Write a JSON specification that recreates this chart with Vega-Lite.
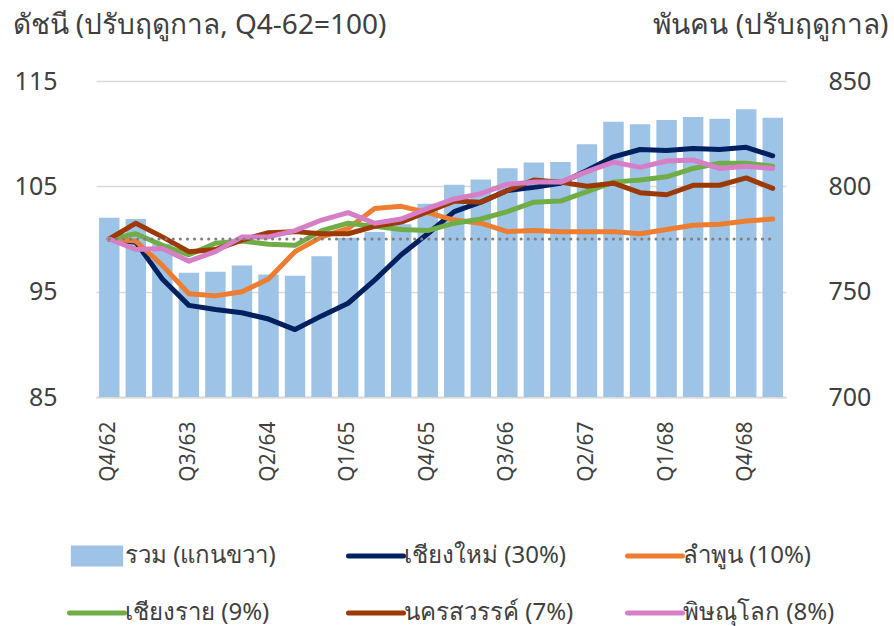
{
  "$schema": "https://vega.github.io/schema/vega-lite/v6.json",
  "width": 690,
  "height": 316,
  "autosize": {"type": "none"},
  "padding": {"top": 81, "left": 96, "right": 108, "bottom": 229},
  "background": "white",
  "config": {
    "view": {"stroke": null},
    "font": "Noto Sans",
    "axis": {"labelColor": "#404040", "titleColor": "#404040", "titleFontWeight": "normal"},
    "legend": {"title": null}
  },
  "data": {"values": [
    {"q": "Q4/62", "total": 785.1, "เชียงใหม่ (30%)": 100, "ลำพูน (10%)": 100, "เชียงราย (9%)": 100, "นครสวรรค์ (7%)": 100, "พิษณุโลก (8%)": 100},
    {"q": "Q1/63", "total": 784.5, "เชียงใหม่ (30%)": 99.7, "ลำพูน (10%)": 99.8, "เชียงราย (9%)": 100.5, "นครสวรรค์ (7%)": 101.5, "พิษณุโลก (8%)": 99.0},
    {"q": "Q2/63", "total": 772.8, "เชียงใหม่ (30%)": 96.2, "ลำพูน (10%)": 97.5, "เชียงราย (9%)": 99.4, "นครสวรรค์ (7%)": 100.2, "พิษณุโลก (8%)": 99.1},
    {"q": "Q3/63", "total": 759.0, "เชียงใหม่ (30%)": 93.7, "ลำพูน (10%)": 94.8, "เชียงราย (9%)": 98.5, "นครสวรรค์ (7%)": 98.8, "พิษณุโลก (8%)": 97.9},
    {"q": "Q4/63", "total": 759.4, "เชียงใหม่ (30%)": 93.3, "ลำพูน (10%)": 94.6, "เชียงราย (9%)": 99.6, "นครสวรรค์ (7%)": 99.0, "พิษณุโลก (8%)": 98.8},
    {"q": "Q1/64", "total": 762.4, "เชียงใหม่ (30%)": 93.0, "ลำพูน (10%)": 95.0, "เชียงราย (9%)": 99.8, "นครสวรรค์ (7%)": 99.9, "พิษณุโลก (8%)": 100.2},
    {"q": "Q2/64", "total": 758.1, "เชียงใหม่ (30%)": 92.4, "ลำพูน (10%)": 96.2, "เชียงราย (9%)": 99.5, "นครสวรรค์ (7%)": 100.6, "พิษณุโลก (8%)": 100.2},
    {"q": "Q3/64", "total": 757.5, "เชียงใหม่ (30%)": 91.4, "ลำพูน (10%)": 98.8, "เชียงราย (9%)": 99.4, "นครสวรรค์ (7%)": 100.7, "พิษณุโลก (8%)": 100.8},
    {"q": "Q4/64", "total": 766.8, "เชียงใหม่ (30%)": 92.7, "ลำพูน (10%)": 100.2, "เชียงราย (9%)": 100.8, "นครสวรรค์ (7%)": 100.5, "พิษณุโลก (8%)": 101.8},
    {"q": "Q1/65", "total": 775.6, "เชียงใหม่ (30%)": 93.9, "ลำพูน (10%)": 101.0, "เชียงราย (9%)": 101.5, "นครสวรรค์ (7%)": 100.5, "พิษณุโลก (8%)": 102.5},
    {"q": "Q2/65", "total": 778.3, "เชียงใหม่ (30%)": 96.1, "ลำพูน (10%)": 102.9, "เชียงราย (9%)": 101.2, "นครสวรรค์ (7%)": 101.2, "พิษณุโลก (8%)": 101.5},
    {"q": "Q3/65", "total": 782.0, "เชียงใหม่ (30%)": 98.5, "ลำพูน (10%)": 103.1, "เชียงราย (9%)": 100.9, "นครสวรรค์ (7%)": 101.6, "พิษณุโลก (8%)": 101.9},
    {"q": "Q4/65", "total": 791.7, "เชียงใหม่ (30%)": 100.5, "ลำพูน (10%)": 102.5, "เชียงราย (9%)": 100.8, "นครสวรรค์ (7%)": 102.6, "พิษณุโลก (8%)": 102.9},
    {"q": "Q1/66", "total": 800.7, "เชียงใหม่ (30%)": 102.6, "ลำพูน (10%)": 101.8, "เชียงราย (9%)": 101.5, "นครสวรรค์ (7%)": 103.6, "พิษณุโลก (8%)": 103.8},
    {"q": "Q2/66", "total": 803.2, "เชียงใหม่ (30%)": 103.5, "ลำพูน (10%)": 101.5, "เชียงราย (9%)": 101.9, "นครสวรรค์ (7%)": 103.5, "พิษณุโลก (8%)": 104.3},
    {"q": "Q3/66", "total": 808.6, "เชียงใหม่ (30%)": 104.6, "ลำพูน (10%)": 100.7, "เชียงราย (9%)": 102.6, "นครสวรรค์ (7%)": 104.6, "พิษณุโลก (8%)": 105.2},
    {"q": "Q4/66", "total": 811.3, "เชียงใหม่ (30%)": 104.9, "ลำพูน (10%)": 100.8, "เชียงราย (9%)": 103.5, "นครสวรรค์ (7%)": 105.6, "พิษณุโลก (8%)": 105.4},
    {"q": "Q1/67", "total": 811.6, "เชียงใหม่ (30%)": 105.3, "ลำพูน (10%)": 100.7, "เชียงราย (9%)": 103.6, "นครสวรรค์ (7%)": 105.4, "พิษณุโลก (8%)": 105.4},
    {"q": "Q2/67", "total": 820.0, "เชียงใหม่ (30%)": 106.5, "ลำพูน (10%)": 100.7, "เชียงราย (9%)": 104.5, "นครสวรรค์ (7%)": 105.0, "พิษณุโลก (8%)": 106.4},
    {"q": "Q3/67", "total": 830.7, "เชียงใหม่ (30%)": 107.8, "ลำพูน (10%)": 100.7, "เชียงราย (9%)": 105.4, "นครสวรรค์ (7%)": 105.3, "พิษณุโลก (8%)": 107.3},
    {"q": "Q4/67", "total": 829.5, "เชียงใหม่ (30%)": 108.5, "ลำพูน (10%)": 100.5, "เชียงราย (9%)": 105.6, "นครสวรรค์ (7%)": 104.4, "พิษณุโลก (8%)": 106.8},
    {"q": "Q1/68", "total": 831.5, "เชียงใหม่ (30%)": 108.4, "ลำพูน (10%)": 100.9, "เชียงราย (9%)": 105.9, "นครสวรรค์ (7%)": 104.2, "พิษณุโลก (8%)": 107.4},
    {"q": "Q2/68", "total": 832.9, "เชียงใหม่ (30%)": 108.6, "ลำพูน (10%)": 101.3, "เชียงราย (9%)": 106.7, "นครสวรรค์ (7%)": 105.1, "พิษณุโลก (8%)": 107.5},
    {"q": "Q3/68", "total": 832.1, "เชียงใหม่ (30%)": 108.5, "ลำพูน (10%)": 101.4, "เชียงราย (9%)": 107.2, "นครสวรรค์ (7%)": 105.1, "พิษณุโลก (8%)": 106.7},
    {"q": "Q4/68", "total": 836.6, "เชียงใหม่ (30%)": 108.7, "ลำพูน (10%)": 101.7, "เชียงราย (9%)": 107.2, "นครสวรรค์ (7%)": 105.8, "พิษณุโลก (8%)": 106.9},
    {"q": "Q1/69", "total": 832.5, "เชียงใหม่ (30%)": 107.9, "ลำพูน (10%)": 101.9, "เชียงราย (9%)": 106.9, "นครสวรรค์ (7%)": 104.8, "พิษณุโลก (8%)": 106.7}
  ]},
  "encoding": {
    "x": {
      "field": "q", "type": "nominal", "sort": null,
      "scale": {"paddingInner": 0.23, "paddingOuter": 0.115},
      "axis": {
        "title": null,
        "values": ["Q4/62", "Q3/63", "Q2/64", "Q1/65", "Q4/65", "Q3/66", "Q2/67", "Q1/68", "Q4/68"],
        "labelAngle": -90, "labelFontSize": 21, "labelPadding": 24, "labelColor": "#404040",
        "ticks": false, "domain": true, "domainColor": "#D9D9D9", "domainWidth": 2,
        "grid": false
      }
    }
  },
  "layer": [
    {
      "mark": {"type": "bar", "color": "#9DC3E6"},
      "encoding": {
        "y": {
          "field": "total", "type": "quantitative",
          "scale": {"domain": [700, 850], "nice": false, "zero": false},
          "axis": {
            "orient": "right", "values": [700, 750, 800, 850], "grid": false,
            "ticks": false, "domain": false, "labelFontSize": 25, "labelPadding": 42, "labelAlign": "left",
            "title": "พันคน (ปรับฤดูกาล)", "titleAngle": 0, "titleAlign": "right", "titleBaseline": "middle",
            "titleX": 102, "titleY": -56, "titleFontSize": 28
          }
        },
        "y2": {"datum": 700},
        "color": {
          "datum": "รวม (แกนขวา)",
          "scale": {
            "domain": ["รวม (แกนขวา)", "เชียงใหม่ (30%)", "ลำพูน (10%)", "เชียงราย (9%)", "นครสวรรค์ (7%)", "พิษณุโลก (8%)"],
            "range": ["#9DC3E6", "#002060", "#ED7D31", "#70AD47", "#9C3A05", "#D67FC6"]
          },
          "legend": {
            "title": null, "orient": "none", "legendX": -11, "legendY": 463,
            "columns": 3, "direction": "horizontal", "gridAlign": "all",
            "columnPadding": 43, "rowPadding": 33, "padding": 0,
            "labelFontSize": 24, "labelColor": "#404040", "labelOffset": 16, "labelLimit": 300,
            "symbolSize": 3025, "symbolType": "stroke", "symbolStrokeWidth": 5,
            "encode": {
              "symbols": {
                "update": {
                  "shape": {"signal": "datum.value === 'รวม (แกนขวา)' ? 'M-0.95,-0.38H0.95V0.38H-0.95Z' : 'stroke'"},
                  "fill": {"signal": "datum.value === 'รวม (แกนขวา)' ? '#9DC3E6' : 'transparent'"},
                  "stroke": {"signal": "datum.value === 'รวม (แกนขวา)' ? 'transparent' : scale('color', datum.value)"},
                  "strokeWidth": {"signal": "datum.value === 'รวม (แกนขวา)' ? 0 : 5"},
                  "strokeCap": {"value": "round"},
                  "opacity": {"value": 1}
                }
              }
            }
          }
        }
      }
    },
    {
      "transform": [
        {"fold": ["เชียงใหม่ (30%)", "ลำพูน (10%)", "เชียงราย (9%)", "นครสวรรค์ (7%)", "พิษณุโลก (8%)"], "as": ["s", "v"]}
      ],
      "mark": {"type": "line", "strokeWidth": 5, "strokeJoin": "round", "strokeCap": "round"},
      "encoding": {
        "y": {
          "field": "v", "type": "quantitative",
          "scale": {"domain": [85, 115], "nice": false, "zero": false},
          "axis": {
            "orient": "left", "values": [85, 95, 105, 115], "grid": true, "gridColor": "#D9D9D9", "gridWidth": 1.5,
            "ticks": false, "domain": false, "labelFontSize": 25, "labelPadding": 39,
            "title": "ดัชนี (ปรับฤดูกาล, Q4-62=100)", "titleAngle": 0, "titleAlign": "left", "titleBaseline": "middle",
            "titleX": -84, "titleY": -56, "titleFontSize": 28
          }
        },
        "color": {"field": "s", "type": "nominal", "legend": {"title": null}}
      }
    },
    {
      "mark": {"type": "line", "color": "#7F7F7F", "strokeWidth": 3, "strokeDash": [0.1, 7], "strokeCap": "round"},
      "encoding": {
        "y": {"datum": 100, "type": "quantitative", "scale": {"domain": [85, 115], "nice": false, "zero": false}, "axis": null}
      }
    }
  ],
  "resolve": {"scale": {"y": "independent"}}
}
